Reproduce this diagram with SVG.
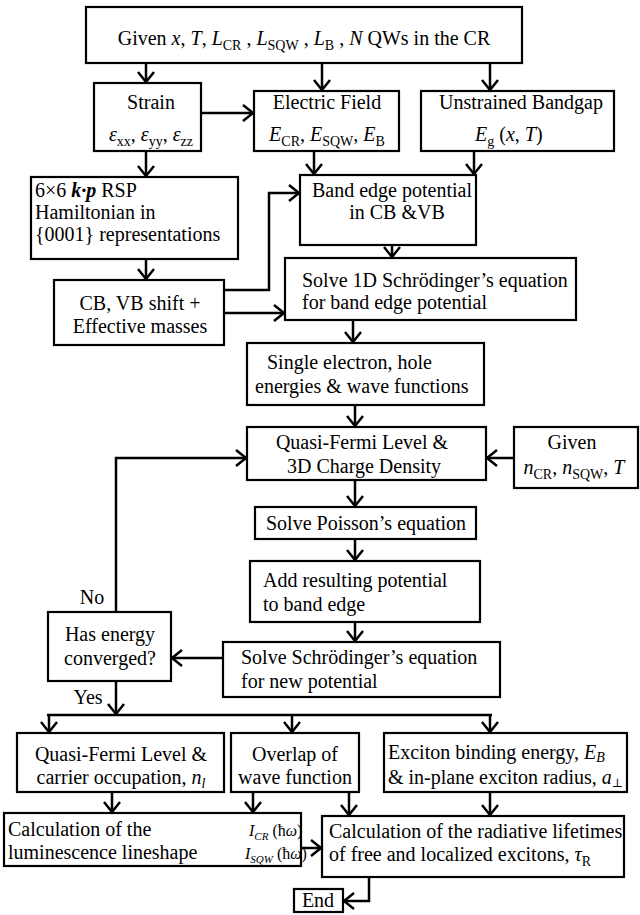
<svg xmlns="http://www.w3.org/2000/svg" width="640" height="915" viewBox="0 0 640 915">
<style>
.b{fill:#fff;stroke:#000;stroke-width:2.2}
.t{font-family:"Liberation Serif","Times New Roman",serif;font-size:20px;fill:#000}
.c{text-anchor:middle}
.i{font-style:italic}
.s{font-size:14px}
.m{font-size:16px}
.ss{font-size:11px}
.bi{font-weight:bold;font-style:italic}
.dj{font-family:"DejaVu Serif",serif;font-size:12px}
.ln{fill:none;stroke:#000;stroke-width:2.5}
</style>
<defs>
<marker id="a" markerUnits="userSpaceOnUse" markerWidth="14" markerHeight="18" viewBox="0 0 14 18" refX="12" refY="9" orient="auto">
<path d="M1,1 L11,9 L1,17" fill="none" stroke="#000" stroke-width="2.5"/>
</marker>
</defs>
<g id="connectors" class="ln">
<line x1="146" y1="63" x2="146" y2="83" marker-end="url(#a)"/>
<line x1="322" y1="63" x2="322" y2="91" marker-end="url(#a)"/>
<line x1="490" y1="63" x2="490" y2="91" marker-end="url(#a)"/>
<line x1="201" y1="113" x2="254" y2="113" marker-end="url(#a)"/>
<line x1="146" y1="151" x2="146" y2="177" marker-end="url(#a)"/>
<line x1="314" y1="151" x2="314" y2="175" marker-end="url(#a)"/>
<line x1="474" y1="151" x2="474" y2="175" marker-end="url(#a)"/>
<line x1="146" y1="259" x2="146" y2="280" marker-end="url(#a)"/>
<polyline points="224,290 269,290 269,193 300,193" marker-end="url(#a)"/>
<line x1="224" y1="313" x2="285" y2="313" marker-end="url(#a)"/>
<line x1="392" y1="245" x2="392" y2="258" marker-end="url(#a)"/>
<line x1="353" y1="320" x2="353" y2="343" marker-end="url(#a)"/>
<line x1="355" y1="405" x2="355" y2="427" marker-end="url(#a)"/>
<line x1="514" y1="458" x2="486" y2="458" marker-end="url(#a)"/>
<polyline points="116,612 116,458 247,458" marker-end="url(#a)"/>
<line x1="355" y1="480" x2="355" y2="507" marker-end="url(#a)"/>
<line x1="355" y1="539" x2="355" y2="561" marker-end="url(#a)"/>
<line x1="355" y1="622" x2="355" y2="642" marker-end="url(#a)"/>
<line x1="223" y1="658" x2="171" y2="658" marker-end="url(#a)"/>
<line x1="116" y1="681" x2="116" y2="715" marker-end="url(#a)"/>
<line x1="47" y1="715" x2="492" y2="715"/>
<line x1="49" y1="715" x2="49" y2="733" marker-end="url(#a)"/>
<line x1="292" y1="715" x2="292" y2="733" marker-end="url(#a)"/>
<line x1="490" y1="715" x2="490" y2="733" marker-end="url(#a)"/>
<line x1="112" y1="792" x2="112" y2="813" marker-end="url(#a)"/>
<line x1="253" y1="792" x2="253" y2="813" marker-end="url(#a)"/>
<line x1="349" y1="792" x2="349" y2="816" marker-end="url(#a)"/>
<line x1="490" y1="792" x2="490" y2="816" marker-end="url(#a)"/>
<line x1="301" y1="848" x2="322" y2="848" marker-end="url(#a)"/>
<polyline points="369,877 369,901 343,901" marker-end="url(#a)"/>
</g>
<g id="n-given">
<rect class="b" x="86" y="7" width="436" height="56"/>
<text class="t c" x="304" y="45">Given <tspan class="i">x</tspan>, <tspan class="i">T</tspan>, <tspan class="i">L</tspan><tspan class="s" dy="5">CR</tspan><tspan dy="-5"> , </tspan><tspan class="i">L</tspan><tspan class="s" dy="5">SQW</tspan><tspan dy="-5"> , </tspan><tspan class="i">L</tspan><tspan class="s" dy="5">B</tspan><tspan dy="-5"> , </tspan><tspan class="i">N</tspan> QWs in the CR</text>
</g>
<g id="n-strain">
<rect class="b" x="94" y="83" width="107" height="68"/>
<text class="t c" x="151" y="109">Strain</text>
<text class="t c" x="151" y="141"><tspan class="i">ε</tspan><tspan class="s" dy="5">xx</tspan><tspan dy="-5">, </tspan><tspan class="i">ε</tspan><tspan class="s" dy="5">yy</tspan><tspan dy="-5">, </tspan><tspan class="i">ε</tspan><tspan class="s" dy="5">zz</tspan></text>
</g>
<g id="n-efield">
<rect class="b" x="254" y="91" width="145" height="60"/>
<text class="t c" x="327" y="109">Electric Field</text>
<text class="t c" x="327" y="141"><tspan class="i">E</tspan><tspan class="s" dy="5">CR</tspan><tspan dy="-5">, </tspan><tspan class="i">E</tspan><tspan class="s" dy="5">SQW</tspan><tspan dy="-5">, </tspan><tspan class="i">E</tspan><tspan class="s" dy="5">B</tspan></text>
</g>
<g id="n-bandgap">
<rect class="b" x="421" y="91" width="193" height="60"/>
<text class="t c" x="521" y="109">Unstrained Bandgap</text>
<text class="t" x="475" y="141"><tspan class="i">E</tspan><tspan class="s" dy="5">g</tspan><tspan dy="-5"> (</tspan><tspan class="i">x</tspan>, <tspan class="i">T</tspan>)</text>
</g>
<g id="n-kp">
<rect class="b" x="31" y="177" width="207" height="82"/>
<text class="t" x="35" y="197">6×6 <tspan class="bi">k·p</tspan> RSP</text>
<text class="t" x="35" y="219">Hamiltonian in</text>
<text class="t" x="35" y="241">{0001} representations</text>
</g>
<g id="n-bandedge">
<rect class="b" x="300" y="175" width="176" height="70"/>
<text class="t c" x="392" y="197">Band edge potential</text>
<text class="t c" x="397" y="219">in CB &amp;VB</text>
</g>
<g id="n-solve1d">
<rect class="b" x="285" y="258" width="291" height="62"/>
<text class="t" x="302" y="287">Solve 1D Schrödinger’s equation</text>
<text class="t" x="302" y="309">for band edge potential</text>
</g>
<g id="n-cbvb">
<rect class="b" x="54" y="280" width="170" height="65"/>
<text class="t c" x="140" y="310">CB, VB shift +</text>
<text class="t c" x="140" y="333">Effective masses</text>
</g>
<g id="n-single">
<rect class="b" x="247" y="343" width="237" height="62"/>
<text class="t" x="267" y="369">Single electron, hole</text>
<text class="t" x="255" y="393">energies &amp; wave functions</text>
</g>
<g id="n-qf">
<rect class="b" x="247" y="427" width="239" height="53"/>
<text class="t c" x="362" y="449">Quasi-Fermi Level &amp;</text>
<text class="t c" x="364" y="473">3D Charge Density</text>
</g>
<g id="n-given2">
<rect class="b" x="514" y="427" width="124" height="61"/>
<text class="t c" x="572" y="449">Given</text>
<text class="t c" x="574" y="474"><tspan class="i">n</tspan><tspan class="s" dy="5">CR</tspan><tspan dy="-5">, </tspan><tspan class="i">n</tspan><tspan class="s" dy="5">SQW</tspan><tspan dy="-5">, </tspan><tspan class="i">T</tspan></text>
</g>
<g id="n-poisson">
<rect class="b" x="255" y="507" width="221" height="32"/>
<text class="t c" x="366" y="530">Solve Poisson’s equation</text>
</g>
<g id="n-add">
<rect class="b" x="250" y="561" width="230" height="61"/>
<text class="t" x="263" y="587">Add resulting potential</text>
<text class="t" x="263" y="611">to band edge</text>
</g>
<g id="n-solve">
<rect class="b" x="223" y="642" width="277" height="55"/>
<text class="t" x="241" y="664">Solve Schrödinger’s equation</text>
<text class="t" x="241" y="688">for new potential</text>
</g>
<g id="n-converged">
<rect class="b" x="48" y="612" width="123" height="69"/>
<text class="t c" x="110" y="641">Has energy</text>
<text class="t c" x="110" y="665">converged?</text>
</g>
<g id="labels">
<text class="t c" x="92" y="604">No</text>
<text class="t c" x="88" y="704">Yes</text>
</g>
<g id="n-qf2">
<rect class="b" x="17" y="733" width="207" height="59"/>
<text class="t c" x="121" y="761">Quasi-Fermi Level &amp;</text>
<text class="t c" x="121" y="784">carrier occupation,  <tspan class="i">n</tspan><tspan class="s i" dy="4">l</tspan></text>
</g>
<g id="n-overlap">
<rect class="b" x="231" y="733" width="128" height="59"/>
<text class="t c" x="295" y="761">Overlap of</text>
<text class="t c" x="295" y="784">wave function</text>
</g>
<g id="n-exciton">
<rect class="b" x="384" y="733" width="243" height="59"/>
<text class="t" x="388" y="759">Exciton binding energy,  <tspan class="i">E</tspan><tspan class="s i" dy="3">B</tspan></text>
<text class="t" x="388" y="784">&amp; in-plane exciton radius, <tspan class="i">a</tspan><tspan class="dj" dy="3">⊥</tspan></text>
</g>
<g id="n-lineshape">
<rect class="b" x="4" y="813" width="297" height="53"/>
<text class="t" x="8" y="836">Calculation of the</text>
<text class="t" x="8" y="859">luminescence lineshape</text>
<text class="t m" x="249" y="836"><tspan class="i">I</tspan><tspan class="ss i" dy="4">CR</tspan><tspan dy="-4"> (ħ</tspan><tspan class="i">ω</tspan>)</text>
<text class="t m" x="245" y="859"><tspan class="i">I</tspan><tspan class="ss i" dy="4">SQW</tspan><tspan dy="-4"> (ħ</tspan><tspan class="i">ω</tspan>)</text>
</g>
<g id="n-lifetimes">
<rect class="b" x="322" y="816" width="302" height="61"/>
<text class="t" x="329" y="838">Calculation of the radiative lifetimes</text>
<text class="t" x="329" y="861">of free and localized excitons,  <tspan class="i">τ</tspan><tspan class="s" dy="5">R</tspan></text>
</g>
<g id="n-end">
<rect class="b" x="294" y="889" width="49" height="23"/>
<text class="t c" x="318" y="907">End</text>
</g>
</svg>
